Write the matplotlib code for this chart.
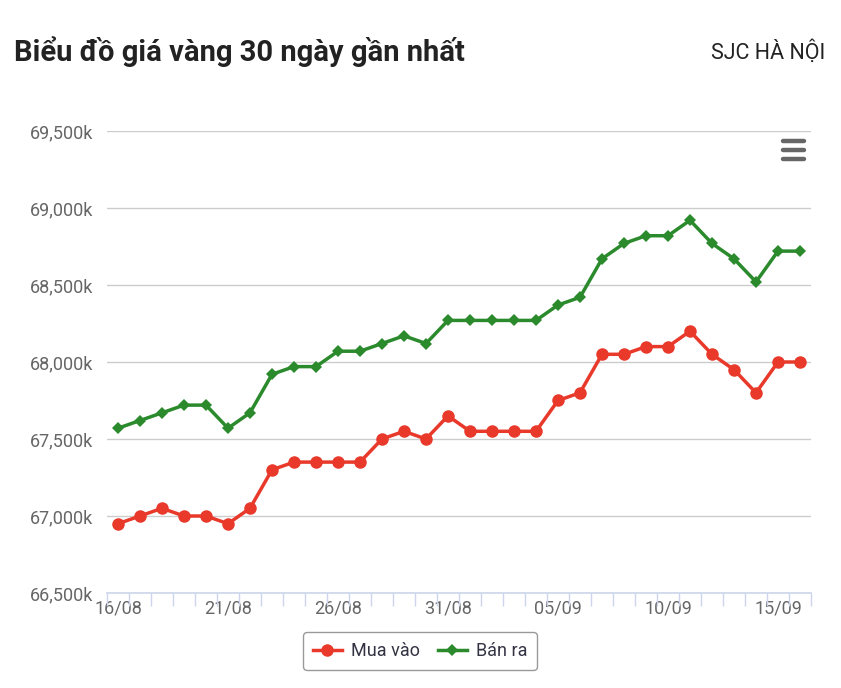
import matplotlib
matplotlib.use("Agg")
import matplotlib.pyplot as plt
from matplotlib.ticker import FuncFormatter, MultipleLocator
from matplotlib.lines import Line2D

plt.rcParams['font.family'] = ['Roboto', 'DejaVu Sans']

# data (nghìn đồng / lượng)
dates = ["16/08", "17/08", "18/08", "19/08", "20/08", "21/08", "22/08", "23/08",
         "24/08", "25/08", "26/08", "27/08", "28/08", "29/08", "30/08", "31/08",
         "01/09", "02/09", "03/09", "04/09", "05/09", "06/09", "07/09", "08/09",
         "09/09", "10/09", "11/09", "12/09", "13/09", "14/09", "15/09", "16/09"]
mua_vao = [66950, 67000, 67050, 67000, 67000, 66950, 67050, 67300,
           67350, 67350, 67350, 67350, 67500, 67550, 67500, 67650,
           67550, 67550, 67550, 67550, 67750, 67800, 68050, 68050,
           68100, 68100, 68200, 68050, 67950, 67800, 68000, 68000]
ban_ra = [67570, 67620, 67670, 67720, 67720, 67570, 67670, 67920,
          67970, 67970, 68070, 68070, 68120, 68170, 68120, 68270,
          68270, 68270, 68270, 68270, 68370, 68420, 68670, 68770,
          68820, 68820, 68920, 68770, 68670, 68520, 68720, 68720]

red = '#e8392b'
green = '#2a8a2c'

fig = plt.figure(figsize=(8.41, 6.88), dpi=100)
ax = fig.add_axes([107 / 841, 1 - 593 / 688, 704 / 841, 462 / 688])

x = list(range(len(dates)))
ax.plot(x, mua_vao, color=red, lw=2.5, marker='o', markersize=9,
        markeredgewidth=0, zorder=3, clip_on=False, label="Mua vào")
ax.plot(x, ban_ra, color=green, lw=2.5, marker='D', markersize=6.5,
        markeredgewidth=0, zorder=3, clip_on=False, label="Bán ra")

ax.set_xlim(-0.5, len(dates) - 0.5)
ax.set_ylim(66500, 69500)
ax.yaxis.set_major_locator(MultipleLocator(500))
ax.yaxis.set_major_formatter(FuncFormatter(lambda v, p: f"{int(v):,}k"))
ax.grid(axis='y', color='#cccccc', lw=1)
ax.set_axisbelow(True)

ax.set_xticks(x[::5])
ax.set_xticklabels(dates[::5])
ax.set_xticks([i - 0.5 for i in range(len(dates) + 1)], minor=True)
ax.tick_params(axis='x', which='major', length=0, pad=5, labelsize=13,
               labelcolor='#666666')
ax.tick_params(axis='x', which='minor', length=9, width=1, color='#ccd6eb')
ax.tick_params(axis='y', length=0, pad=10, labelsize=13, labelcolor='#666666')

for s in ['top', 'right', 'left']:
    ax.spines[s].set_visible(False)
ax.spines['bottom'].set_color('#ccd6eb')
ax.spines['bottom'].set_linewidth(1.2)

fig.text(14 / 841, 1 - 52 / 688, "Biểu đồ giá vàng 30 ngày gần nhất",
         fontsize=21, fontweight='bold', color='#222222', va='center', ha='left')
fig.text(825 / 841, 1 - 52 / 688, "SJC HÀ NỘI", fontsize=15.5,
         color='#222222', va='center', ha='right')

# hamburger menu icon
for yy in [141, 150, 159]:
    fig.add_artist(Line2D([783 / 841, 804 / 841], [1 - yy / 688, 1 - yy / 688],
                          color='#666666', lw=3.2, solid_capstyle='round'))

leg = ax.legend(loc='center', bbox_to_anchor=(420 / 841, 1 - 651 / 688),
                bbox_transform=fig.transFigure, ncol=2, frameon=True,
                fancybox=True, edgecolor='#999999', framealpha=1,
                fontsize=13, handlelength=1.6, handletextpad=0.5,
                columnspacing=1.0, borderpad=0.55, labelcolor='#333344')
leg.get_frame().set_linewidth(1)

fig.savefig("out.png", dpi=100, facecolor='white')
